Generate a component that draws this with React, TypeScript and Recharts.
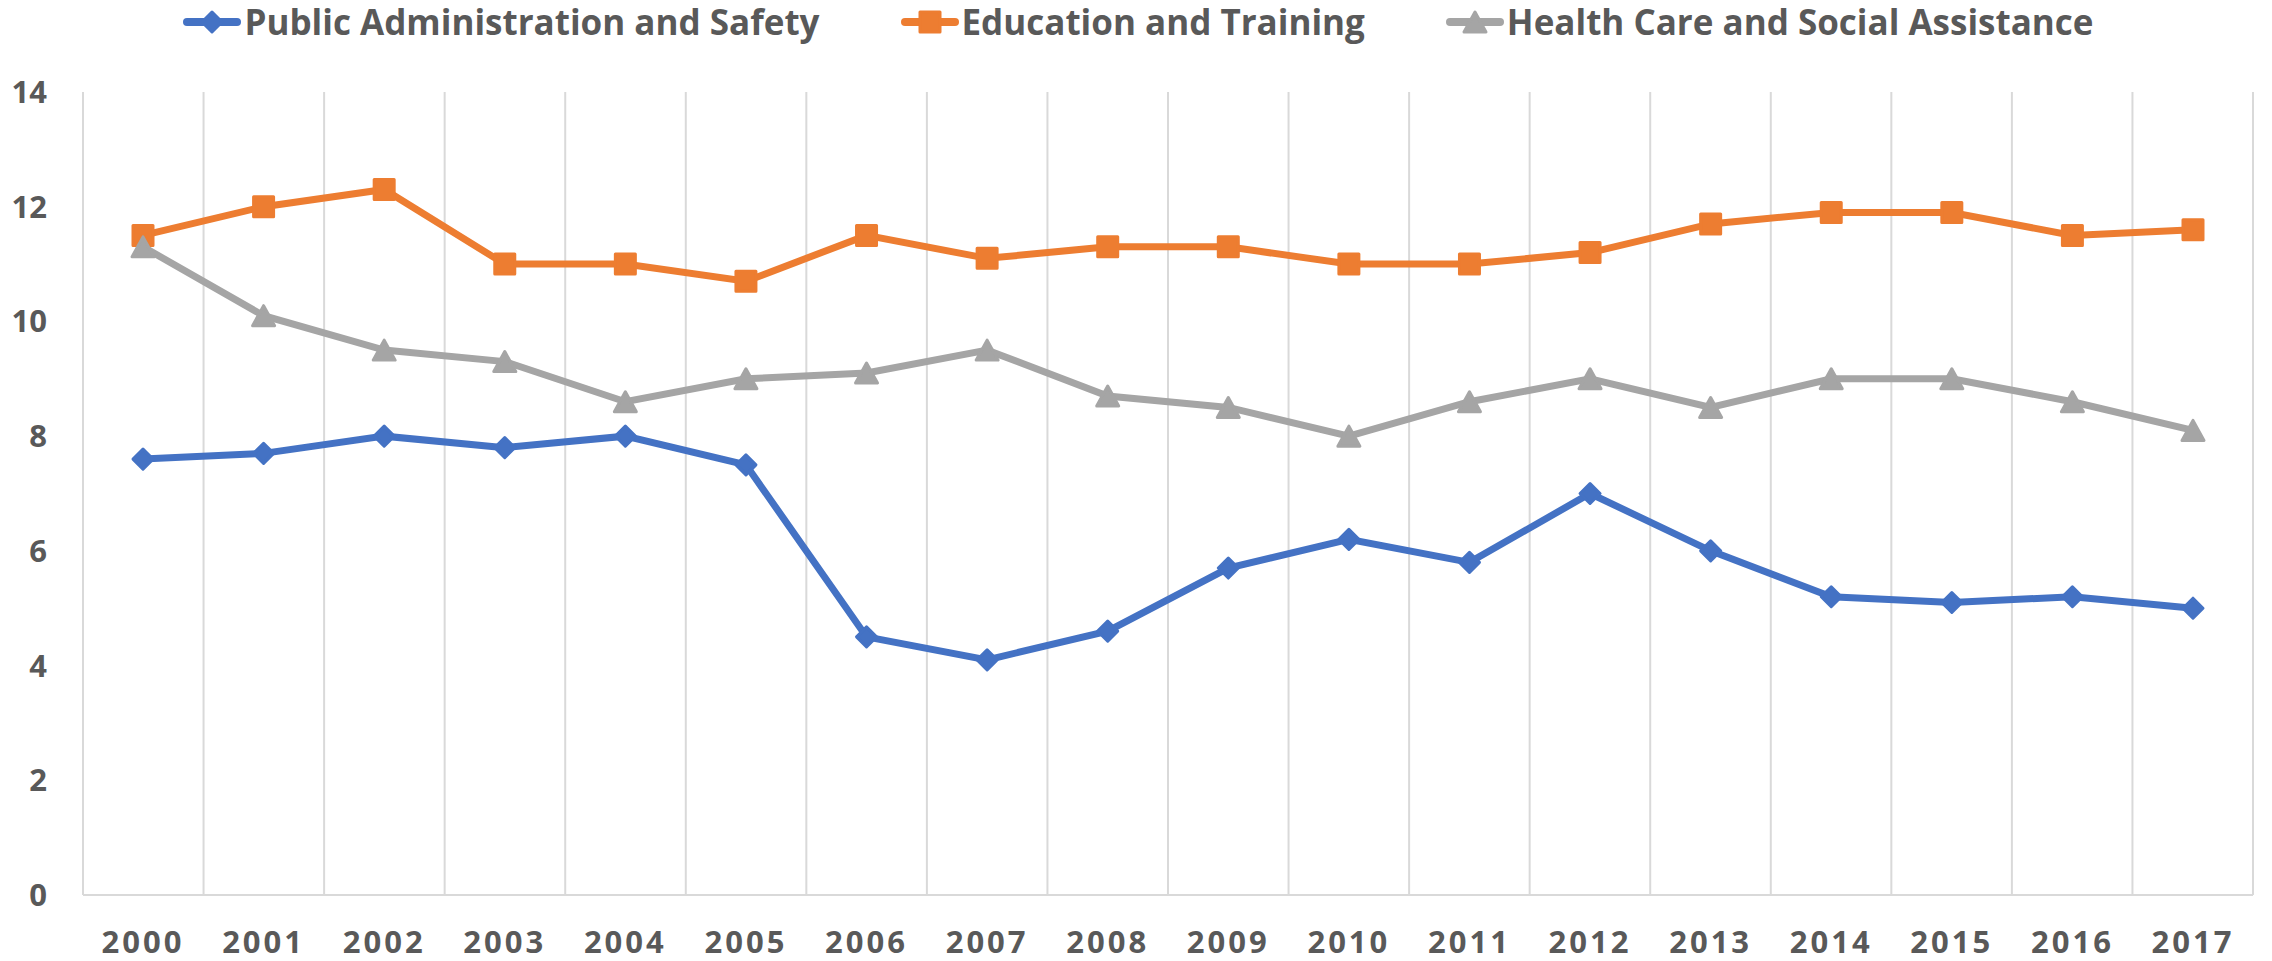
import React from 'react';
import {
  LineChart,
  Line,
  XAxis,
  YAxis,
  CartesianGrid,
  Legend,
} from 'recharts';

const years = [
  '2000', '2001', '2002', '2003', '2004', '2005', '2006', '2007', '2008',
  '2009', '2010', '2011', '2012', '2013', '2014', '2015', '2016', '2017',
];
const publicAdmin = [7.6, 7.7, 8.0, 7.8, 8.0, 7.5, 4.5, 4.1, 4.6, 5.7, 6.2, 5.8, 7.0, 6.0, 5.2, 5.1, 5.2, 5.0];
const education = [11.5, 12.0, 12.3, 11.0, 11.0, 10.7, 11.5, 11.1, 11.3, 11.3, 11.0, 11.0, 11.2, 11.7, 11.9, 11.9, 11.5, 11.6];
const healthCare = [11.3, 10.1, 9.5, 9.3, 8.6, 9.0, 9.1, 9.5, 8.7, 8.5, 8.0, 8.6, 9.0, 8.5, 9.0, 9.0, 8.6, 8.1];
const yTicks = [0, 2, 4, 6, 8, 10, 12, 14];

const data = years.map((year, i) => ({
  year,
  publicAdmin: publicAdmin[i],
  education: education[i],
  healthCare: healthCare[i],
}));

const BLUE = '#4472C4';
const ORANGE = '#ED7D31';
const GRAY = '#A5A5A5';
const TEXT = '#595959';
const FONT = "'Open Sans', sans-serif";

type Shape = 'diamond' | 'square' | 'triangle';

// marker outlines, sized like the Excel defaults in the source picture
function markerPath(shape: Shape, cx: number, cy: number) {
  if (shape === 'diamond') {
    const r = 10;
    return `M${cx},${cy - r}L${cx + r},${cy}L${cx},${cy + r}L${cx - r},${cy}Z`;
  }
  if (shape === 'square') {
    const r = 10;
    return `M${cx - r},${cy - r}H${cx + r}V${cy + r}H${cx - r}Z`;
  }
  const r = 10;
  return `M${cx},${cy - r}L${cx + r + 1},${cy + r}L${cx - r - 1},${cy + r}Z`;
}

const Marker = (shape: Shape, color: string) => (props: any) => {
  const { cx, cy, index } = props;
  if (cx == null || cy == null) return <g key={index} />;
  return (
    <path
      key={index}
      d={markerPath(shape, cx, cy)}
      fill={color}
      stroke={color}
      strokeWidth={3}
      strokeLinejoin="round"
    />
  );
};

const series = [
  { key: 'publicAdmin', name: 'Public Administration and Safety', color: BLUE, shape: 'diamond' as Shape },
  { key: 'education', name: 'Education and Training', color: ORANGE, shape: 'square' as Shape },
  { key: 'healthCare', name: 'Health Care and Social Assistance', color: GRAY, shape: 'triangle' as Shape },
];

function LegendContent() {
  return (
    <div
      style={{
        display: 'flex',
        justifyContent: 'center',
        alignItems: 'center',
        gap: 80,
        height: 44,
        paddingLeft: 4,
      }}
    >
      {series.map((s) => (
        <div key={s.key} style={{ display: 'flex', alignItems: 'center' }}>
          <svg width={60} height={30} style={{ marginRight: 2 }}>
            <line x1={5} y1={15} x2={55} y2={15} stroke={s.color} strokeWidth={8} strokeLinecap="round" />
            <path d={markerPath(s.shape, 30, 15)} fill={s.color} stroke={s.color} strokeWidth={3} strokeLinejoin="round" />
          </svg>
          <span
            style={{
              fontFamily: FONT,
              fontWeight: 700,
              fontSize: 35,
              color: TEXT,
              lineHeight: '44px',
            }}
          >
            {s.name}
          </span>
        </div>
      ))}
    </div>
  );
}

export default function App() {
  return (
    <div style={{ width: 2272, height: 961, background: '#fff' }}>
      <style>{'body{margin:0}'}</style>
      <LineChart
        width={2272}
        height={961}
        data={data}
        margin={{ top: 48, right: 19, bottom: 0, left: 0 }}
      >
        <CartesianGrid
          horizontal={false}
          stroke="#d9d9d9"
          strokeWidth={2}
          verticalCoordinatesGenerator={({ offset }: any) =>
            years.concat(['end']).map((_, i) => offset.left + (i * offset.width) / years.length)
          }
        />
        <XAxis
          dataKey="year"
          padding={{ left: 60, right: 60 }}
          axisLine={{ stroke: '#d9d9d9', strokeWidth: 2 }}
          tickLine={false}
          tickSize={0}
          tickMargin={36}
          height={66}
          interval={0}
          tick={{ fill: TEXT, fontFamily: FONT, fontWeight: 700, fontSize: 31, letterSpacing: 3 }}
        />
        <YAxis
          domain={[0, 14]}
          ticks={yTicks}
          width={83}
          axisLine={false}
          tickLine={false}
          tickSize={0}
          tickMargin={36}
          tick={{ fill: TEXT, fontFamily: FONT, fontWeight: 700, fontSize: 31 }}
        />
        <Legend
          verticalAlign="top"
          content={<LegendContent />}
          wrapperStyle={{ top: 0, left: 0, width: 2272 }}
        />
        {series.map((s) => (
          <Line
            key={s.key}
            dataKey={s.key}
            name={s.name}
            stroke={s.color}
            strokeWidth={7}
            dot={Marker(s.shape, s.color)}
            activeDot={false}
            isAnimationActive={false}
          />
        ))}
      </LineChart>
    </div>
  );
}
